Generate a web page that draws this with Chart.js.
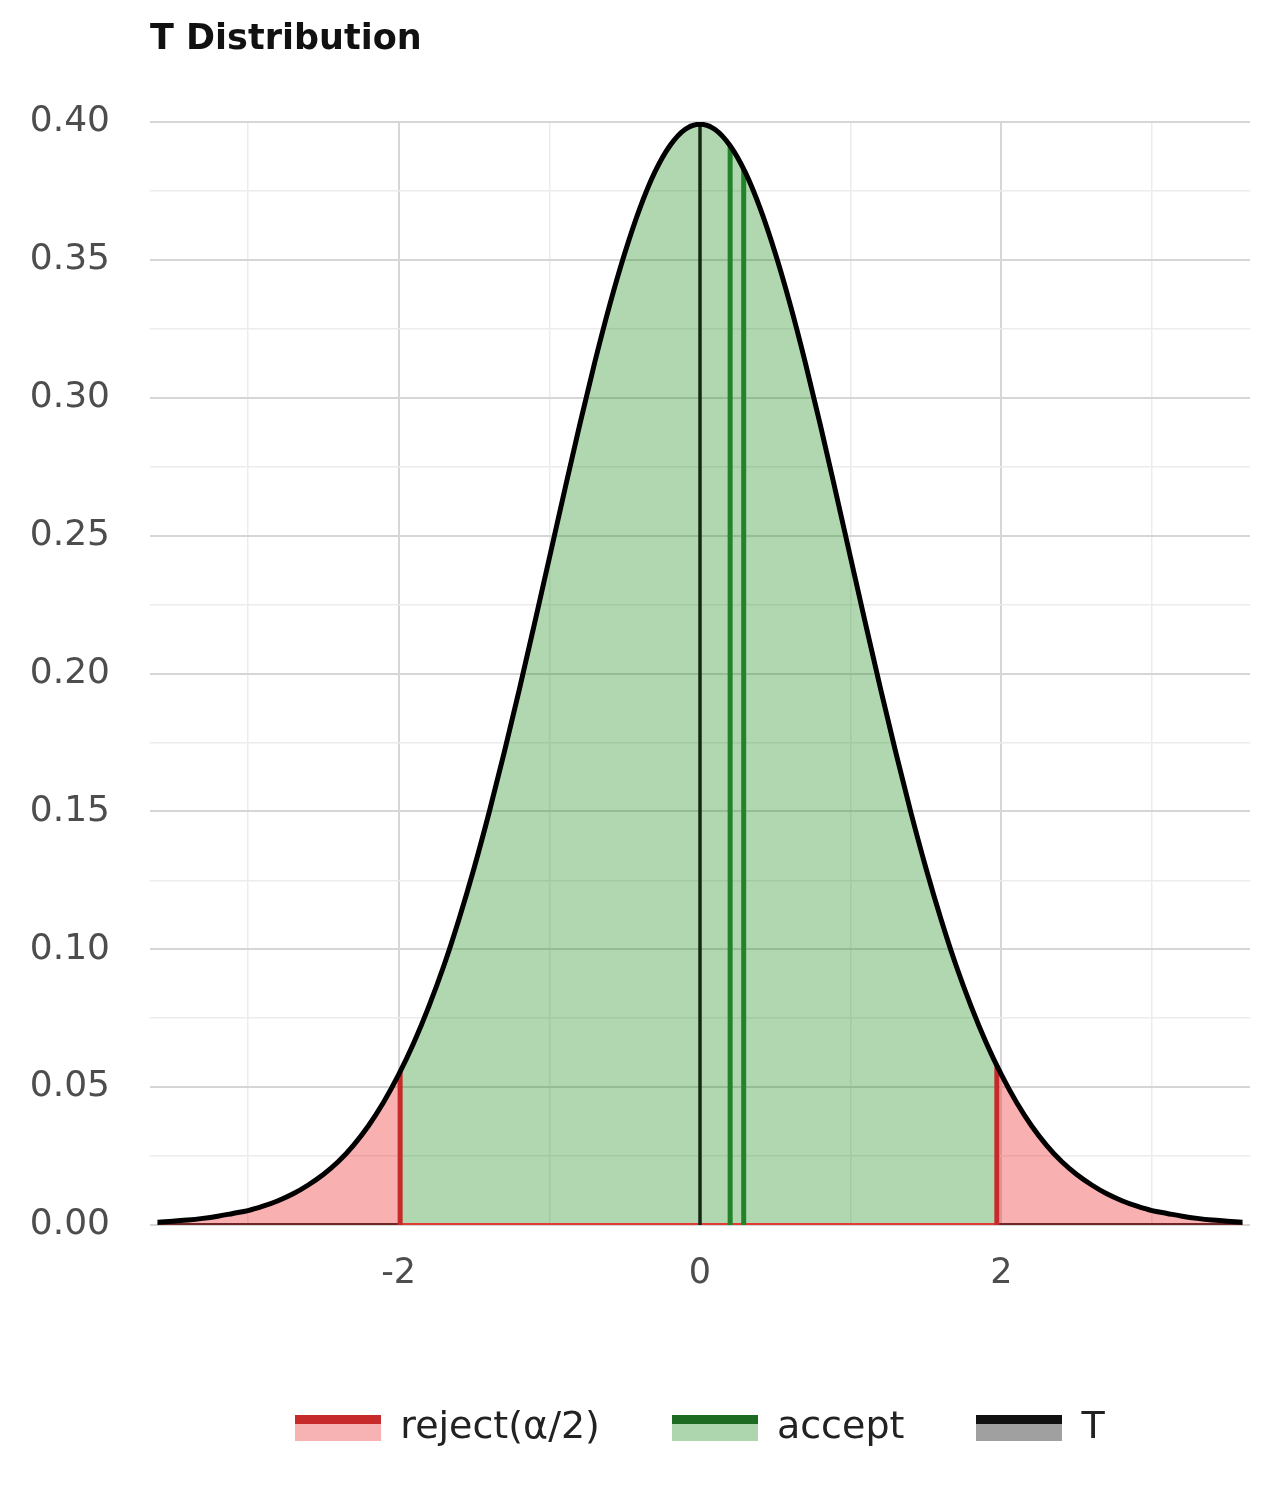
<!DOCTYPE html>
<html>
<head>
<meta charset="utf-8">
<title>T Distribution</title>
<script src="https://cdn.jsdelivr.net/npm/chart.js@4.4.1/dist/chart.umd.min.js"></script>
<style>
  html, body { margin: 0; padding: 0; background: #fff; }
  #wrap { width: 1286px; height: 1490px; }
</style>
</head>
<body>
<div id="wrap"><canvas id="tChart"></canvas></div>
<script>
// t values where the curve was read, and the density read at each one
var tX = [-3.6, -3.5, -3.4, -3.3, -3.2, -3.1, -3.0, -2.9, -2.8, -2.7, -2.6, -2.5, -2.4,
          -2.3, -2.2, -2.1, -2.0, -1.9, -1.8, -1.7, -1.6, -1.5, -1.4, -1.3, -1.2, -1.1,
          -1.0, -0.9, -0.8, -0.7, -0.6, -0.5, -0.4, -0.3, -0.2, -0.1, 0.0,
          0.1, 0.2, 0.3, 0.4, 0.5, 0.6, 0.7, 0.8, 0.9, 1.0, 1.1, 1.2, 1.3, 1.4, 1.5,
          1.6, 1.7, 1.8, 1.9, 2.0, 2.1, 2.2, 2.3, 2.4, 2.5, 2.6, 2.7, 2.8, 2.9, 3.0,
          3.1, 3.2, 3.3, 3.4, 3.5, 3.6];
var density = [0.0010, 0.0014, 0.0018, 0.0024, 0.0032, 0.0042, 0.0052, 0.0068, 0.0088, 0.0113,
               0.0145, 0.0183, 0.0230, 0.0289, 0.0360, 0.0445, 0.0545, 0.0660, 0.0792, 0.0940,
               0.1108, 0.1293, 0.1495, 0.1712, 0.1940, 0.2177, 0.2418, 0.2660, 0.2898, 0.3125,
               0.3335, 0.3523, 0.3686, 0.3818, 0.3914, 0.3973, 0.3992,
               0.3973, 0.3914, 0.3818, 0.3686, 0.3523, 0.3335, 0.3125, 0.2898, 0.2660, 0.2418,
               0.2177, 0.1940, 0.1712, 0.1495, 0.1293, 0.1108, 0.0940, 0.0792, 0.0660, 0.0545,
               0.0445, 0.0360, 0.0289, 0.0230, 0.0183, 0.0145, 0.0113, 0.0088, 0.0068, 0.0052,
               0.0042, 0.0032, 0.0024, 0.0018, 0.0014, 0.0010];

// critical values (red lines) and the density there
var critX = [-1.99, 1.97];
var critDensity = [0.0556, 0.0580];

// green "accept" lines and the black line at the centre
var acceptX = [0.20, 0.29];
var acceptDensity = [0.3914, 0.3830];
var centreX = 0;
var centreDensity = 0.3992;

var xTicks = [-3, -2, -1, 0, 1, 2, 3];
var yTicks = [0, 0.025, 0.05, 0.075, 0.1, 0.125, 0.15, 0.175, 0.2, 0.225, 0.25, 0.275,
              0.3, 0.325, 0.35, 0.375, 0.4];
var legendNames = ['reject(α/2)', 'accept', 'T'];

var FONT = "'DejaVu Sans', 'Liberation Sans', sans-serif";
var GRID_MAJOR = '#d6d6d6';
var GRID_MINOR = '#ececec';

function pts(xs, ys) {
    var out = [];
    for (var i = 0; i < xs.length; i++) out.push({x: xs[i], y: ys[i]});
    return out;
}

// curve points between a and b, with the end points read at the cut
function segment(a, ya, b, yb) {
    var out = [];
    if (ya !== null) out.push({x: a, y: ya});
    for (var i = 0; i < tX.length; i++) {
        if (tX[i] > a && tX[i] < b) out.push({x: tX[i], y: density[i]});
    }
    if (yb !== null) out.push({x: b, y: yb});
    return out;
}

function vline(x, h) {
    return [{x: x, y: 0}, {x: x, y: h}];
}

// legend key: dark line on top, lighter fill below
function swatch(dark, light) {
    var c = document.createElement('canvas');
    c.width = 86; c.height = 26;
    var g = c.getContext('2d');
    g.fillStyle = light;
    g.fillRect(0, 9, 86, 17);
    g.fillStyle = dark;
    g.fillRect(0, 0, 86, 9);
    return c;
}

var leftTail = segment(-9, null, critX[0], critDensity[0]);
var middle = segment(critX[0], critDensity[0], critX[1], critDensity[1]);
var rightTail = segment(critX[1], critDensity[1], 9, null);

var redFill = 'rgba(235, 30, 30, 0.35)';
var greenFill = 'rgba(30, 140, 30, 0.35)';

var fillBase = {
    showLine: true, pointRadius: 0, borderWidth: 0, fill: 'origin',
    cubicInterpolationMode: 'monotone'
};

function rule(label, data, colour, width, order) {
    return {label: label, data: data, borderColor: colour, borderWidth: width,
            pointRadius: 0, showLine: true, fill: false, order: order};
}

var datasets = [
    Object.assign({label: 'rejectL', data: leftTail, backgroundColor: redFill, order: 10}, fillBase),
    Object.assign({label: 'acceptFill', data: middle, backgroundColor: greenFill, order: 10}, fillBase),
    Object.assign({label: 'rejectR', data: rightTail, backgroundColor: redFill, order: 10}, fillBase),
    rule('baseMid', [{x: critX[0], y: 0}, {x: critX[1], y: 0}], '#e23b36', 4, 5),
    rule('baseL', [{x: tX[0], y: 0}, {x: critX[0], y: 0}], '#6e2626', 4, 5),
    rule('baseR', [{x: critX[1], y: 0}, {x: tX[tX.length - 1], y: 0}], '#6e2626', 4, 5),
    rule('critL', vline(critX[0], critDensity[0]), '#c8292a', 5, 4),
    rule('critR', vline(critX[1], critDensity[1]), '#c8292a', 5, 4),
    rule('acc1', vline(acceptX[0], acceptDensity[0]), '#23832a', 5, 4),
    rule('acc2', vline(acceptX[1], acceptDensity[1]), '#23832a', 5, 4),
    rule('centre', vline(centreX, centreDensity), '#142814', 3.5, 3),
    {label: 'T', data: pts(tX, density), borderColor: '#000000', borderWidth: 5,
     pointRadius: 0, showLine: true, fill: false, cubicInterpolationMode: 'monotone', order: 1}
];

var keys = [swatch('#c62a2a', '#f7b3b3'), swatch('#1d6b22', '#aed6ae'), swatch('#111111', '#a0a0a0')];

new Chart(document.getElementById('tChart'), {
    type: 'scatter',
    data: {datasets: datasets},
    options: {
        responsive: true,
        maintainAspectRatio: false,
        animation: false,
        layout: {padding: {top: 0, left: 0, right: 36, bottom: 33}},
        plugins: {
            tooltip: {enabled: false},
            title: {
                display: true,
                text: 'T Distribution',
                align: 'start',
                fullSize: false,
                color: '#111',
                font: {family: FONT, size: 35, weight: 'bold'},
                padding: {top: 19, bottom: 61}
            },
            legend: {
                position: 'bottom',
                fullSize: false,
                labels: {
                    usePointStyle: true,
                    pointStyleWidth: 86,
                    boxHeight: 26,
                    padding: 72,
                    color: '#222',
                    font: {family: FONT, size: 38},
                    generateLabels: function() {
                        return legendNames.map(function(name, i) {
                            return {text: name, pointStyle: keys[i], fontColor: '#222',
                                    hidden: false, lineWidth: 0, datasetIndex: i};
                        });
                    }
                }
            }
        },
        scales: {
            x: {
                type: 'linear',
                min: -3.65,
                max: 3.65,
                afterBuildTicks: function(s) { s.ticks = xTicks.map(function(v) { return {value: v}; }); },
                afterFit: function(s) { s.height = 112; },
                border: {display: false},
                grid: {
                    drawTicks: false,
                    color: function(c) { return c.tick && c.tick.value % 2 === 0 ? GRID_MAJOR : GRID_MINOR; },
                    lineWidth: function(c) { return c.tick && c.tick.value % 2 === 0 ? 2 : 1.5; }
                },
                ticks: {
                    autoSkip: false,
                    maxRotation: 0,
                    padding: 28,
                    color: '#4d4d4d',
                    font: {family: FONT, size: 35},
                    callback: function(v) { return v % 2 === 0 ? String(v) : ''; }
                }
            },
            y: {
                min: 0,
                max: 0.4,
                afterBuildTicks: function(s) { s.ticks = yTicks.map(function(v) { return {value: v}; }); },
                afterFit: function(s) { s.width = 150; },
                border: {display: false},
                grid: {
                    drawTicks: false,
                    color: function(c) { return c.index % 2 === 0 ? GRID_MAJOR : GRID_MINOR; },
                    lineWidth: function(c) { return c.index % 2 === 0 ? 2 : 1.5; }
                },
                ticks: {
                    autoSkip: false,
                    padding: 40,
                    color: '#4d4d4d',
                    font: {family: FONT, size: 36},
                    callback: function(v, i) { return i % 2 === 0 ? v.toFixed(2) : ''; }
                }
            }
        }
    }
});
</script>
</body>
</html>
